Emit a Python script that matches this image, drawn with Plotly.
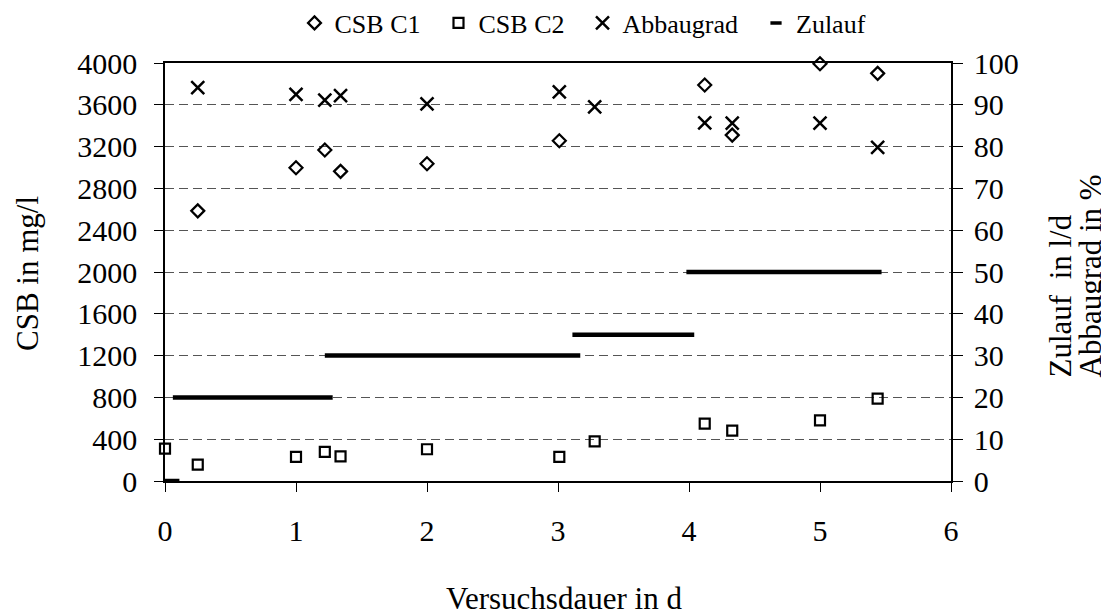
import plotly.graph_objects as go

# ---- data ----
t_c1 = [0.25, 1.0, 1.22, 1.34, 2.0, 3.01, 4.12, 4.33, 5.0, 5.44]
csb_c1 = [2585, 2997, 3167, 2963, 3036, 3256, 3789, 3310, 3993, 3901]

t_c2 = [0.0, 0.25, 1.0, 1.22, 1.34, 2.0, 3.01, 3.28, 4.12, 4.33, 5.0, 5.44]
csb_c2 = [310, 157, 230, 278, 236, 304, 230, 380, 550, 482, 581, 789]

t_abb = [0.25, 1.0, 1.22, 1.34, 2.0, 3.01, 3.28, 4.12, 4.33, 5.0, 5.44]
abbaugrad = [94.1, 92.5, 91.1, 92.2, 90.2, 93.1, 89.5, 85.7, 85.6, 85.6, 79.8]

zulauf_start = [0.0, 0.06, 1.22, 3.11, 3.98]
zulauf_end = [0.11, 1.28, 3.17, 4.04, 5.47]
zulauf_value = [0, 20, 30, 35, 50]

x_ticks = [0, 1, 2, 3, 4, 5, 6]
y_ticks = list(range(0, 4001, 400))
y2_ticks = list(range(0, 101, 10))

FONT = "Liberation Serif, Times New Roman, serif"
TICK_SIZE = 30
TITLE_SIZE = 31
PAD = "\u00a0\u00a0"  # extra spacing between legend entries

# the page body has an 8px default margin; plot area on screen: x 165..951, y 63..481
OFF = 8
PL, PT, PW, PH = 165 - OFF, 63 - OFF, 786, 418
W, H = 1109, 616


def px(xs):  # screen x -> paper
    return (xs - 165) / PW


def py(ys):  # screen y -> paper
    return (481 - ys) / PH


zx, zy = [], []
for s, e, v in zip(zulauf_start, zulauf_end, zulauf_value):
    zx += [s, e, None]
    zy += [v, v, None]

fig = go.Figure()
fig.add_trace(go.Scatter(x=t_c1, y=csb_c1, mode="markers", name="CSB C1" + PAD,
                         marker=dict(symbol="diamond-open", size=10, color="black",
                                     line=dict(width=2.2, color="black")),
                         cliponaxis=False))
fig.add_trace(go.Scatter(x=t_c2, y=csb_c2, mode="markers", name="CSB C2" + PAD,
                         marker=dict(symbol="square-open", size=10, color="black",
                                     line=dict(width=2.2, color="black")),
                         cliponaxis=False))
fig.add_trace(go.Scatter(x=t_abb, y=abbaugrad, mode="markers", name="Abbaugrad" + PAD,
                         yaxis="y2",
                         marker=dict(symbol="x-thin", size=13, color="black",
                                     line=dict(width=2.5, color="black")),
                         cliponaxis=False))
fig.add_trace(go.Scatter(x=zx, y=zy, mode="lines", name="Zulauf", yaxis="y2",
                         line=dict(color="black", width=4.5), showlegend=False,
                         cliponaxis=False))
# legend entry for Zulauf (short dash symbol)
fig.add_trace(go.Scatter(x=[None], y=[None], mode="markers", name="Zulauf",
                         yaxis="y2",
                         marker=dict(symbol="line-ew", size=8, color="black",
                                     line=dict(width=3.5, color="black"))))

axis_common = dict(showline=True, linecolor="black", linewidth=1.5,
                   ticks="outside", tickcolor="black", tickwidth=1,
                   tickfont=dict(family=FONT, size=TICK_SIZE, color="black"),
                   zeroline=False)

fig.update_layout(
    width=W, height=H,
    margin=dict(l=PL, r=W - PL - PW, t=PT, b=H - PT - PH, autoexpand=False),
    paper_bgcolor="white", plot_bgcolor="white",
    font=dict(family=FONT, color="black"),
    showlegend=True,
    legend=dict(orientation="h", x=px(583), xanchor="center", y=py(23),
                yanchor="middle", font=dict(family=FONT, size=26, color="black"),
                itemwidth=30, bgcolor="rgba(0,0,0,0)", traceorder="normal"),
    xaxis=dict(range=[0, 6], tickvals=x_ticks, showgrid=False, mirror=True,
               ticklen=9, ticklabelstandoff=13, **axis_common),
    yaxis=dict(range=[0, 4000], tickvals=y_ticks, showgrid=True,
               gridcolor="#555555", griddash="9px,5px", gridwidth=1,
               ticklen=9, ticklabelstandoff=11, **axis_common),
    yaxis2=dict(range=[0, 100], tickvals=y2_ticks, overlaying="y", side="right",
                showgrid=False, ticklabelstandoff=5, ticklen=10, **axis_common),
    annotations=[
        dict(text="Versuchsdauer in d", xref="paper", yref="paper",
             x=px(564), y=py(598), xanchor="center",
             yanchor="middle", showarrow=False,
             font=dict(family=FONT, size=TITLE_SIZE, color="black")),
        dict(text="CSB in mg/l", xref="paper", yref="paper",
             x=px(27), y=py(274), textangle=-90,
             xanchor="center", yanchor="middle", showarrow=False,
             font=dict(family=FONT, size=TITLE_SIZE, color="black")),
        dict(text="Zulauf  in l/d", xref="paper", yref="paper",
             x=px(1060), y=py(380), textangle=-90,
             xanchor="center", yanchor="bottom", showarrow=False,
             font=dict(family=FONT, size=TITLE_SIZE, color="black")),
        dict(text="Abbaugrad in %", xref="paper", yref="paper",
             x=px(1090), y=py(380), textangle=-90,
             xanchor="center", yanchor="bottom", showarrow=False,
             font=dict(family=FONT, size=TITLE_SIZE, color="black")),
    ],
)

fig.write_html("out.html")
